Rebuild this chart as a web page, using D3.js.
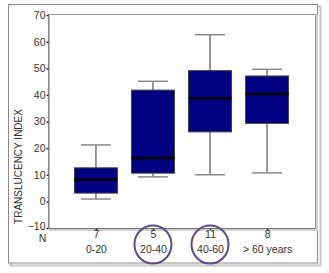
<!DOCTYPE html>
<html><head><meta charset="utf-8">
<script src="https://cdnjs.cloudflare.com/ajax/libs/d3/7.8.5/d3.min.js"></script>
<style>html,body{margin:0;padding:0;background:#fff;}svg{display:block;font-family:"Liberation Sans",Arial,sans-serif;}</style>
</head><body>
<svg id="c" width="329" height="273"></svg>
<script>
const categories = ["0-20", "20-40", "40-60", "> 60 years"];
const counts = ["7", "5", "11", "8"];
const whiskerLow = [0.9, 9.2, 10.0, 10.7];
const q1 = [3.1, 10.6, 26.1, 29.3];
const median = [8.2, 16.3, 38.7, 40.3];
const q3 = [12.6, 41.8, 49.1, 47.1];
const whiskerHigh = [21.2, 45.1, 62.6, 49.6];
const yTicks = [-10, 0, 10, 20, 30, 40, 50, 60, 70];
const circled = ["20-40", "40-60"];
const yTitle = "TRANSLUCENCY INDEX";

const svg = d3.select("#c");
const L = 48, R = 315, T = 15, B = 228;

// outer frame with shadow
svg.append("rect").attr("x", 10.5).attr("y", 6.5).attr("width", 310).attr("height", 259).attr("fill", "none").attr("stroke", "#c8c8c8").attr("stroke-width", 2);
svg.append("rect").attr("x", 8.5).attr("y", 4.5).attr("width", 309).attr("height", 258.5).attr("fill", "#fff").attr("stroke", "#8a8a8a").attr("stroke-width", 1);

// plot frame
svg.append("rect").attr("x", L + 2).attr("y", 14 + 2).attr("width", R - L).attr("height", B - 14).attr("fill", "none").attr("stroke", "#cfcfcf").attr("stroke-width", 2);
svg.append("rect").attr("x", L + 0.5).attr("y", 14.5).attr("width", R - L).attr("height", B - 14).attr("fill", "#fff").attr("stroke", "#999").attr("stroke-width", 1);

const y = d3.scaleLinear().domain([-10, 70]).range([B, T]);
const x = d3.scalePoint().domain(categories).range([L, R]).padding(0.84);

// y axis
const yAxis = d3.axisLeft(y).tickValues(yTicks).tickSize(2).tickPadding(1).tickFormat(d3.format("d"));
const gy = svg.append("g").attr("transform", `translate(${L + 0.5},0)`).call(yAxis);
gy.select(".domain").attr("stroke", "#777");
gy.selectAll(".tick line").attr("stroke", "#333").attr("stroke-width", 1.5);
gy.selectAll(".tick text").attr("fill", "#333").attr("font-size", 10.5).attr("font-family", "Liberation Sans, Arial, sans-serif");
gy.selectAll(".tick").filter(d => d === -10).select("text").attr("dy", "0.1em");

// x axis ticks (small inward marks below axis) and labels
const xAxis = d3.axisBottom(x).tickSize(2).tickPadding(0).tickFormat((d, i) => counts[i]);
const gx = svg.append("g").attr("transform", `translate(0,${B + 0.5})`).call(xAxis);
gx.select(".domain").attr("stroke", "#777").attr("d", `M${L},0H${R}`);
gx.selectAll(".tick line").attr("stroke", "#333").attr("stroke-width", 1.5);
gx.selectAll(".tick text").attr("fill", "#333").attr("font-size", 10.5).attr("font-family", "Liberation Sans, Arial, sans-serif");
gx.selectAll(".tick").append("text").attr("y", 24).attr("fill", "#333").attr("font-size", 10.5)
  .attr("text-anchor", "middle").attr("font-family", "Liberation Sans, Arial, sans-serif").text(d => d);

svg.append("text").attr("x", 42.5).attr("y", 242).attr("text-anchor", "middle").attr("fill", "#333").attr("font-size", 10.5).text("N");

svg.append("text").attr("transform", `translate(22,${(103 + 230) / 2}) rotate(-90)`).attr("text-anchor", "middle")
  .attr("fill", "#333").attr("font-size", 10).text(yTitle);

// boxes
const bw = 43, cw = 30;
const g = svg.append("g");
categories.forEach((c, i) => {
  const cx = x(c);
  g.append("line").attr("x1", cx).attr("x2", cx).attr("y1", y(whiskerHigh[i])).attr("y2", y(q3[i])).attr("stroke", "#777").attr("stroke-width", 1.5);
  g.append("line").attr("x1", cx).attr("x2", cx).attr("y1", y(q1[i])).attr("y2", y(whiskerLow[i])).attr("stroke", "#777").attr("stroke-width", 1.5);
  g.append("line").attr("x1", cx - cw / 2).attr("x2", cx + cw / 2).attr("y1", y(whiskerHigh[i])).attr("y2", y(whiskerHigh[i])).attr("stroke", "#888").attr("stroke-width", 1.5);
  g.append("line").attr("x1", cx - cw / 2).attr("x2", cx + cw / 2).attr("y1", y(whiskerLow[i])).attr("y2", y(whiskerLow[i])).attr("stroke", "#888").attr("stroke-width", 1.5);
  g.append("rect").attr("x", cx - bw / 2).attr("y", y(q3[i])).attr("width", bw).attr("height", y(q1[i]) - y(q3[i]))
    .attr("fill", "#000080").attr("stroke", "#444").attr("stroke-width", 1);
  g.append("line").attr("x1", cx - bw / 2).attr("x2", cx + bw / 2).attr("y1", y(median[i])).attr("y2", y(median[i])).attr("stroke", "#000").attr("stroke-width", 2.5);
});

// circles around highlighted groups
circled.forEach(c => {
  svg.append("ellipse").attr("cx", x(c)).attr("cy", 244.5).attr("rx", 18.5).attr("ry", 19)
    .attr("fill", "none").attr("stroke", "#5e4a88").attr("stroke-width", 2);
});
</script>
</body></html>
